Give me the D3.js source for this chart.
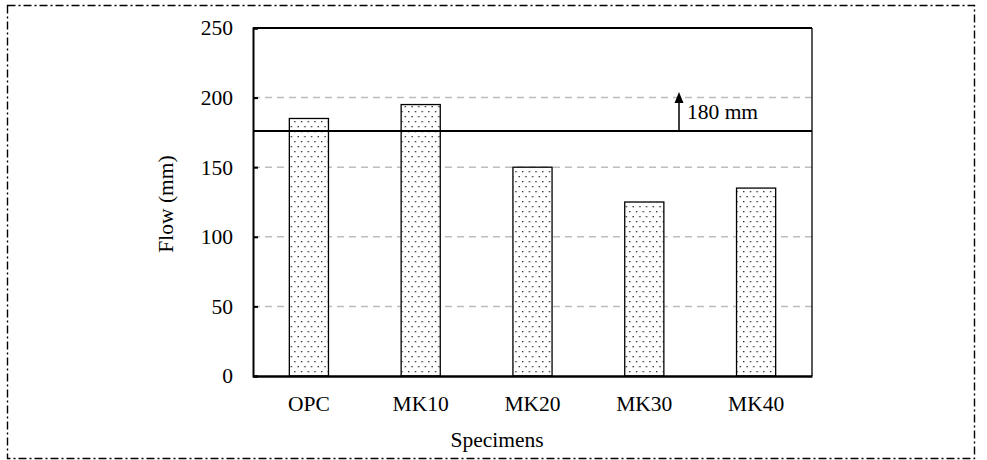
<!DOCTYPE html>
<html><head><meta charset="utf-8">
<script src="https://cdn.jsdelivr.net/npm/d3@7/dist/d3.min.js"></script>
<style>body{margin:0;background:#fff}svg{display:block}text{font-family:"Liberation Serif","Times New Roman",serif;fill:#000}</style>
</head><body><svg id="c" width="987" height="460"></svg>
<script>
const categories = ["OPC","MK10","MK20","MK30","MK40"];
const flowValues = [185,195,150,125,135];
const yTicks = [0,50,100,150,200,250];
const limitValue = 176;
const limitLabel = "180 mm";

const FS = 21.5;
const svg = d3.select("#c");
const m = {l:253, r:812, t:28, b:376};
const x = d3.scaleBand().domain(categories).range([m.l,m.r]).paddingInner(0.65).paddingOuter(0.325);
const y = d3.scaleLinear().domain([0,250]).range([m.b,m.t]);

// outer dash-dot frame
svg.append("rect").attr("x",7.5).attr("y",5.5).attr("width",967).attr("height",453)
  .attr("fill","none").attr("stroke","#000").attr("stroke-width",1.4).attr("stroke-dasharray","8,3,2,3");

const defs = svg.append("defs");
const pat = defs.append("pattern").attr("id","dots").attr("patternUnits","userSpaceOnUse")
  .attr("width",6.7).attr("height",10).attr("x",m.l).attr("y",0);
pat.append("rect").attr("width",6.7).attr("height",10).attr("fill","#fff");
pat.append("rect").attr("x",1).attr("y",1).attr("width",1.3).attr("height",1.3).attr("fill","#222");
pat.append("rect").attr("x",4.35).attr("y",6).attr("width",1.3).attr("height",1.3).attr("fill","#222");

// grid
svg.append("g").selectAll("line").data(yTicks.filter(d=>d>0&&d<250)).join("line")
  .attr("x1",m.l).attr("x2",m.r).attr("y1",d=>y(d)).attr("y2",d=>y(d))
  .attr("stroke","#bdbdbd").attr("stroke-width",1.5).attr("stroke-dasharray","7,5");

// bars
svg.append("g").selectAll("rect").data(categories).join("rect")
  .attr("x",d=>x(d)).attr("width",x.bandwidth())
  .attr("y",(d,i)=>y(flowValues[i])).attr("height",(d,i)=>y(0)-y(flowValues[i]))
  .attr("fill","url(#dots)").attr("stroke","#000").attr("stroke-width",1.3);

// plot frame top & right
svg.append("line").attr("x1",m.l).attr("x2",m.r).attr("y1",m.t).attr("y2",m.t).attr("stroke","#000").attr("stroke-width",2);
svg.append("line").attr("x1",m.r).attr("x2",m.r).attr("y1",m.t).attr("y2",m.b).attr("stroke","#000").attr("stroke-width",1.3);

// y axis
const ya = svg.append("g").attr("transform",`translate(${m.l},0)`)
  .call(d3.axisLeft(y).tickValues(yTicks).tickSize(-5).tickPadding(20));
ya.select(".domain").attr("stroke-width",2);
ya.selectAll(".tick line").attr("stroke-width",2);
ya.selectAll("text").attr("font-size",FS).attr("font-family","Liberation Serif");

// x axis
const xa = svg.append("g").attr("transform",`translate(0,${m.b})`)
  .call(d3.axisBottom(x).tickSize(0).tickPadding(20));
xa.select(".domain").attr("stroke-width",2.5);
xa.selectAll("text").attr("font-size",FS).attr("font-family","Liberation Serif").attr("dy","0.72em");

// limit line
svg.append("line").attr("x1",m.l).attr("x2",m.r).attr("y1",y(limitValue)).attr("y2",y(limitValue))
  .attr("stroke","#000").attr("stroke-width",2.2);
const ax = 679;
svg.append("line").attr("x1",ax).attr("x2",ax).attr("y1",y(limitValue)).attr("y2",y(limitValue)-30)
  .attr("stroke","#000").attr("stroke-width",1.5);
svg.append("path").attr("d",`M${ax},${y(limitValue)-39} L${ax-4.5},${y(limitValue)-28} L${ax+4.5},${y(limitValue)-28} Z`).attr("fill","#000");
svg.append("text").attr("x",687).attr("y",y(limitValue)-12).attr("font-size",FS).text(limitLabel);

// titles
svg.append("text").attr("transform",`translate(173,204) rotate(-90)`)
  .attr("text-anchor","middle").attr("font-size",FS).text("Flow (mm)");
svg.append("text").attr("x",497).attr("y",447).attr("text-anchor","middle").attr("font-size",FS).text("Specimens");
</script></body></html>
